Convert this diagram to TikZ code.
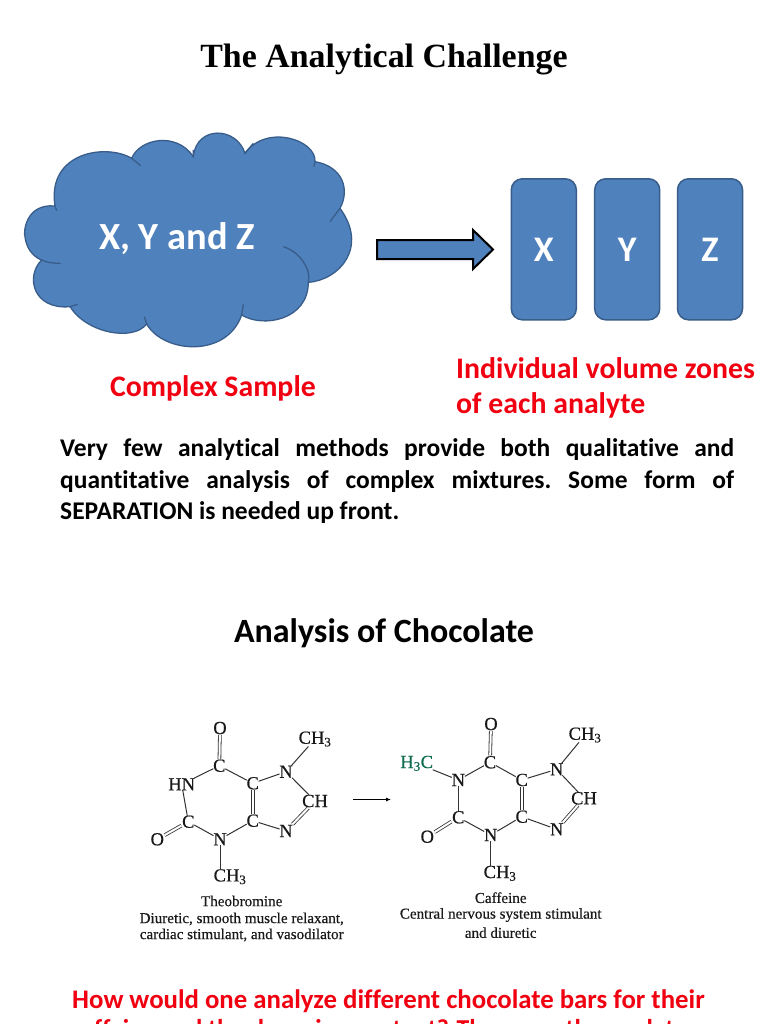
\documentclass[tikz,border=0pt]{standalone}
\usepackage{fontspec}
\usetikzlibrary{arrows.meta}
\setmainfont[Ligatures=NoCommon]{Carlito}
\newfontfamily\serifface[FakeBold=0.4]{Liberation Serif}
\newfontfamily\titleface{Liberation Serif}
\definecolor{fillblue}{HTML}{4F81BD}
\definecolor{edgeblue}{HTML}{385D8A}
\definecolor{redtxt}{HTML}{F00010}
\definecolor{greenatom}{HTML}{0B6B4E}
\tikzset{
  x=1pt,y=-1pt,
  zonebox/.style={draw=edgeblue,line width=1.5pt,fill=fillblue,rounded corners=11pt,minimum width=65pt,minimum height=141pt,inner sep=0pt,text=white,text height=24.5pt,text depth=0pt,font=\fontsize{36}{40}\selectfont\bfseries},
  redlabel/.style={text=redtxt,font=\fontsize{29.8}{36}\selectfont\bfseries,inner sep=0pt},
  atom/.style={inner sep=0.5pt,font=\serifface\fontsize{18.5}{20}\selectfont,text=black!90},
  capt/.style={inner sep=0pt,font=\serifface\fontsize{15.1}{17}\selectfont,text=black!90},
  bond/.style={line width=1pt,black!80,shorten >=-1pt,shorten <=-1pt},
  dbl/.style={line width=0.8pt,black!80,double,double distance=2pt},
}
\begin{document}
\begin{tikzpicture}
\useasboundingbox (0,0) rectangle (768,1024);
\fill[white] (0,0) rectangle (768,1024);
\clip (0,0) rectangle (768,1024);
% title
\node[inner sep=0pt,font=\titleface\fontsize{33.9}{38}\selectfont\bfseries] (title) at (384,59) {The Analytical Challenge};
% cloud (coordinates are those of a 3x crop at (0,120))
\begin{scope}[shift={(0,120)},x=0.3333pt,y=-0.3333pt]
\path[draw=edgeblue,line width=1.3pt,fill=fillblue]
 (165,258) .. controls (75,250) and (70,340) .. (75,350)
 .. controls (80,395) and (110,415) .. (125,420)
 .. controls (75,470) and (100,570) .. (210,560)
 .. controls (260,640) and (400,665) .. (440,612)
 .. controls (490,700) and (680,715) .. (725,585)
 .. controls (790,625) and (925,600) .. (925,487)
 .. controls (1020,480) and (1105,380) .. (1020,265)
 .. controls (1050,210) and (1030,140) .. (945,125)
 .. controls (950,60) and (800,10) .. (735,100)
 .. controls (710,20) and (590,15) .. (580,110)
 .. controls (530,35) and (420,55) .. (395,115)
 .. controls (320,70) and (140,95) .. (165,258) -- cycle;
\draw[edgeblue,line width=1.3pt]
 (125,420) .. controls (140,428) and (160,430) .. (182,430)
 (210,560) -- (233,553)
 (440,612) -- (433,590)
 (725,585) -- (730,553)
 (925,487) .. controls (935,450) and (900,395) .. (850,380)
 (1020,265) -- (990,305)
 (945,125) -- (942,140)
 (735,100) -- (760,70)
 (395,115) -- (422,137)
 (580,110) -- (580,90)
 (165,258) -- (170,272);
\end{scope}
\node[inner sep=0pt,text=white,font=\fontsize{38.4}{42}\selectfont\bfseries] (cloudtext) at (177,239) {X, Y and Z};
% block arrow
\path[draw=black,line width=2pt,fill=fillblue,line join=miter]
 (377,240) -- (473,240) -- (473,230) -- (493,249.5) -- (473,269) -- (473,259) -- (377,259) -- cycle;
% zones
\node[zonebox] (zx) at (543.8,249.3) {X};
\node[zonebox] (zy) at (627.2,249.3) {Y};
\node[zonebox] (zz) at (710,249.3) {Z};
% red labels
\node[redlabel] (cs) at (213,388) {Complex Sample};
\node[redlabel,anchor=west] (iv1) at (456,368) {Individual volume zones};
\node[redlabel,anchor=west] (iv2) at (456,405) {of each analyte};
% body
\node[anchor=north west,inner sep=0pt,align=left,font=\fontsize{25.5}{31.5}\selectfont\bfseries\frenchspacing] (body) at (60,438.5)
 {\hbox to 674pt{Very few analytical methods provide both qualitative and}\\
  \hbox to 674pt{quantitative analysis of complex mixtures. Some form of}\\
  SEPARATION is needed up front.};
\node[inner sep=0pt,font=\fontsize{34}{38}\selectfont\bfseries] (h2) at (384,633) {Analysis of Chocolate};
% theobromine
\node[atom] (tO1) at (220,728) {O};
\node[atom] (tC6) at (219.3,765.7) {C};
\node[atom] (tN1) at (181.7,784.3) {HN};
\node[atom] (tC5) at (252.7,783.3) {C};
\node[atom] (tN7) at (286,771.7) {N};
\node[atom] (tMe7) at (315,739) {CH\textsubscript{3}};
\node[atom] (tC8) at (315,801) {CH};
\node[atom] (tN9) at (286,831) {N};
\node[atom] (tC4) at (252.7,820.7) {C};
\node[atom] (tN3) at (220,839.3) {N};
\node[atom] (tC2) at (188.3,821.7) {C};
\node[atom] (tO2) at (157.3,839.3) {O};
\node[atom] (tMe3) at (230,876.7) {CH\textsubscript{3}};
\draw[dbl] (tO1) -- (tC6);
\draw[bond] (tC6) -- (tN1);
\draw[bond] (tC6) -- (tC5);
\draw[dbl] (tC5) -- (tC4);
\draw[bond] (tC5) -- (tN7);
\draw[bond] (tN7) -- (tMe7);
\draw[bond] (tN7) -- (tC8);
\draw[dbl] (tC8) -- (tN9);
\draw[bond] (tN9) -- (tC4);
\draw[bond] (tC4) -- (tN3);
\draw[bond] (tN3) -- (tC2);
\draw[bond] (tN1) -- (tC2);
\draw[dbl] (tC2) -- (tO2);
\draw[bond] (tN3) -- (tN3 |- tMe3.north);
\node[capt] (tc1) at (241.7,901) {Theobromine};
\node[capt] (tc2) at (241.7,919) {Diuretic, smooth muscle relaxant,};
\node[capt] (tc3) at (241.7,935) {cardiac stimulant, and vasodilator};
% reaction arrow
\coordinate (ra) at (353,799.5);
\coordinate (rb) at (391,799.5);
\draw[line width=0.9pt,black,-{Latex[length=5pt,width=4pt]}] (ra) -- (rb);
% caffeine
\node[atom] (cO1) at (491,724) {O};
\node[atom] (cC6) at (490,762.3) {C};
\node[atom,text=greenatom] (cMe1) at (416.7,763.3) {H\textsubscript{3}C};
\node[atom] (cN1) at (458.3,780) {N};
\node[atom] (cC5) at (521.7,780) {C};
\node[atom] (cN7) at (556.7,769.3) {N};
\node[atom] (cMe7) at (585,735) {CH\textsubscript{3}};
\node[atom] (cC8) at (584,798.3) {CH};
\node[atom] (cN9) at (556.7,829.3) {N};
\node[atom] (cC4) at (521.7,816.7) {C};
\node[atom] (cN3) at (490.7,835) {N};
\node[atom] (cC2) at (458.3,817.3) {C};
\node[atom] (cO2) at (427.3,836.7) {O};
\node[atom] (cMe3) at (500,873.3) {CH\textsubscript{3}};
\draw[dbl] (cO1) -- (cC6);
\draw[bond] (cC6) -- (cN1);
\draw[bond] (cC6) -- (cC5);
\draw[bond] (cMe1) -- (cN1);
\draw[dbl] (cC5) -- (cC4);
\draw[bond] (cC5) -- (cN7);
\draw[bond] (cN7) -- (cMe7);
\draw[bond] (cN7) -- (cC8);
\draw[dbl] (cC8) -- (cN9);
\draw[bond] (cN9) -- (cC4);
\draw[bond] (cC4) -- (cN3);
\draw[bond] (cN3) -- (cC2);
\draw[bond] (cN1) -- (cC2);
\draw[dbl] (cC2) -- (cO2);
\draw[bond] (cN3) -- (cN3 |- cMe3.north);
\node[capt] (cc1) at (500.7,897.7) {Caffeine};
\node[capt] (cc2) at (500.7,915) {Central nervous system stimulant};
\node[capt] (cc3) at (500.7,932.7) {and diuretic};
% bottom text
\node[redlabel,anchor=base west,font=\fontsize{26.8}{30}\selectfont\bfseries] (q1) at (72,1008) {How would one analyze different chocolate bars for their};
\node[redlabel,anchor=base,font=\fontsize{25.8}{30}\selectfont\bfseries] (q2) at (384,1037.5) {caffeine and theobromine content? These are the analytes};
\end{tikzpicture}
\end{document}
